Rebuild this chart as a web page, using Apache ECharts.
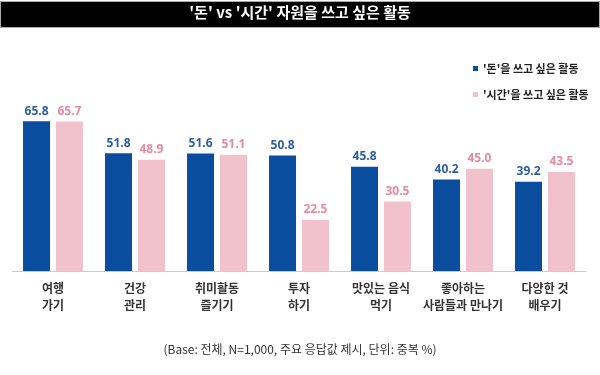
<!DOCTYPE html>
<html><head><meta charset="utf-8">
<script src="https://cdn.jsdelivr.net/npm/echarts@6/dist/echarts.min.js"></script>
<style>html,body{margin:0;padding:0;background:#fff}#c{width:600px;height:375px}</style>
</head><body><div id="c"></div>
<script>
const categories = ['여행\n가기','건강\n관리','취미활동\n즐기기','투자\n하기','맛있는 음식\n먹기','좋아하는\n사람들과 만나기','다양한 것\n배우기'];
const moneyValues = [65.8, 51.8, 51.6, 50.8, 45.8, 40.2, 39.2];
const timeValues = [65.7, 48.9, 51.1, 22.5, 30.5, 45.0, 43.5];
const seriesNames = ["'돈'을 쓰고 싶은 활동", "'시간'을 쓰고 싶은 활동"];
const titleText = "'돈' vs '시간' 자원을 쓰고 싶은 활동";
const footnote = '(Base: 전체, N=1,000, 주요 응답값 제시, 단위: 중복 %)';

const FONT = '"Noto Sans CJK KR", "Noto Sans", sans-serif';
const chart = echarts.init(document.getElementById('c'), null, {renderer:'canvas'});
chart.setOption({
  animation:false,
  textStyle:{fontFamily:FONT},
  graphic:[
    {type:'rect', shape:{x:0.5,y:1.5,width:599,height:26}, style:{fill:'#000', stroke:'#aaa', lineWidth:1}},
    {type:'text', left:'center', top:5, style:{text:titleText, fill:'#fff', font:'bold 15px '+FONT}},
    {type:'text', left:'center', top:343, style:{text:footnote, fill:'#333', font:'12px '+FONT}}
  ],
  legend:{
    orient:'vertical', left:468, top:58, itemGap:15,
    itemWidth:5, itemHeight:5, icon:'rect',
    textStyle:{fontSize:11, fontWeight:'bold', color:'#222', fontFamily:FONT},
    data:seriesNames
  },
  grid:{left:12, right:14, top:89, bottom:104, containLabel:false},
  xAxis:{
    type:'category', data:categories,
    axisLine:{lineStyle:{color:'#ccc', width:1}},
    axisTick:{show:false},
    axisLabel:{color:'#333', fontSize:12, fontWeight:'bold', lineHeight:17, margin:9, interval:0, fontFamily:FONT}
  },
  yAxis:{type:'value', min:0, max:80, show:false, splitLine:{show:false}},
  series:[
    {name:seriesNames[0], type:'bar', data:moneyValues, barWidth:27, barGap:'22%',
     itemStyle:{color:'#0a4d9e'},
     label:{show:true, position:'top', distance:4, color:'#2d5f9f', fontWeight:'bold', fontSize:12, fontFamily:'"Open Sans", sans-serif', formatter:p=>p.value.toFixed(1)}},
    {name:seriesNames[1], type:'bar', data:timeValues, barWidth:27,
     itemStyle:{color:'#f2c2cc'},
     label:{show:true, position:'top', distance:4, color:'#e58aa1', fontWeight:'bold', fontSize:12, fontFamily:'"Open Sans", sans-serif', formatter:p=>p.value.toFixed(1)}}
  ]
});
</script></body></html>
